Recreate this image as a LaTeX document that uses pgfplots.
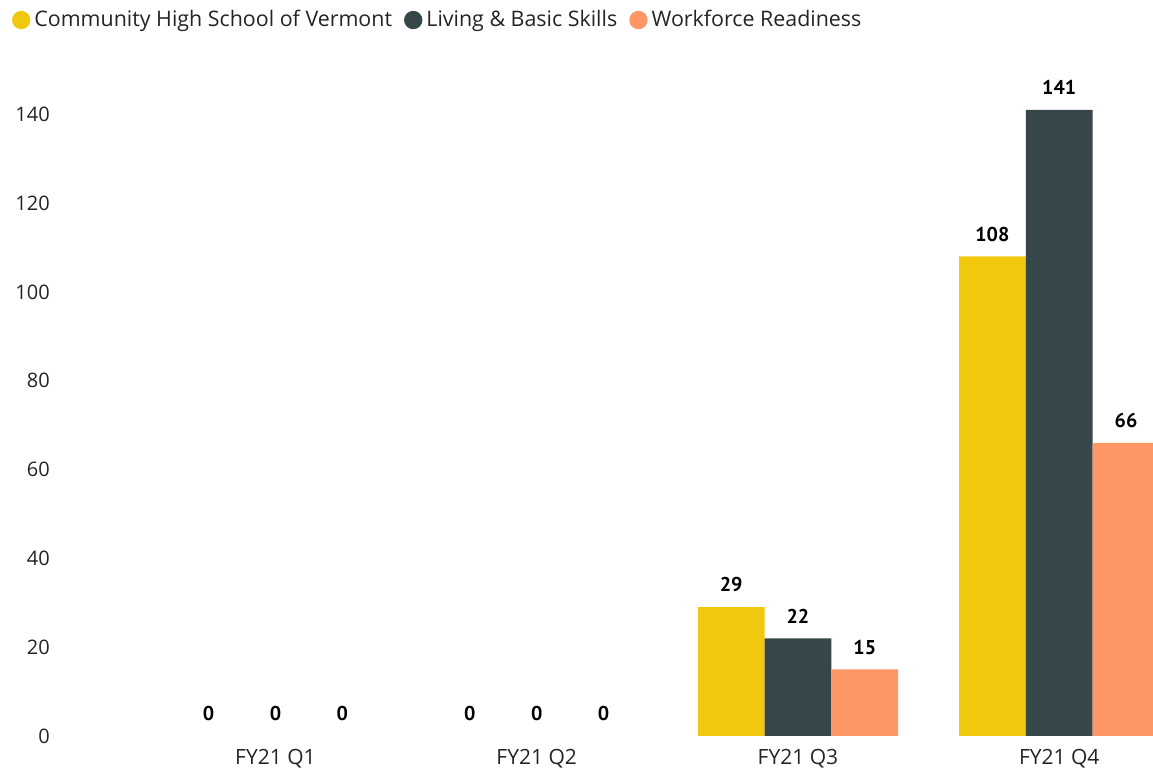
\documentclass[border=0pt]{standalone}
\usepackage{fontspec}
\setmainfont{Open Sans}
\newfontfamily\labelfont{PT Sans}
\usepackage{pgfplots}
\pgfplotsset{compat=1.18}
\definecolor{cy}{HTML}{F2C80F}
\definecolor{cd}{HTML}{374649}
\definecolor{co}{HTML}{FE9666}
\definecolor{tx}{HTML}{252423}
\pgfplotsset{circlegend/.style={legend image code/.code={\fill[##1] (0pt,0pt) circle (4.6pt);}}}
\begin{document}
\begin{tikzpicture}
\useasboundingbox (0,0) rectangle (576.5pt,384.5pt);
\begin{axis}[
 at={(72.4pt,16.5pt)}, anchor=south west,
 scale only axis, width=504.1pt, height=333pt,
 ybar=0pt, bar width=33.4pt,
 xmin=-0.5, xmax=3.359, ymin=0, ymax=150,
 xtick={0,1,2,3}, xticklabels={FY21 Q1,FY21 Q2,FY21 Q3,FY21 Q4},
 ytick={0,20,...,140},
 axis line style={draw=none}, major tick length=0pt,
 yticklabel style={font=\fontsize{10}{12}\selectfont, text=tx, xshift=-44pt},
 xticklabel style={font=\fontsize{10.5}{12}\selectfont, text=tx, yshift=-3pt},
 /pgf/number format/assume math mode=true,
 clip=false,
 nodes near coords,
 nodes near coords style={font=\labelfont\bfseries\fontsize{10}{12}\selectfont, text=black, yshift=4pt},
 legend columns=3,
 legend style={at={(axis description cs:-0.1317,1.075)}, anchor=west, draw=none, fill=none, inner sep=0pt, outer sep=0pt,
   font=\fontsize{10.7}{12}\selectfont, text=tx,
   /tikz/every even column/.append style={column sep=4pt}},
]
\addplot[fill=cy, draw=none, circlegend, bar shift=-33.4pt] coordinates {(2,29) (3,108)};
\addplot[fill=cd, draw=none, circlegend, bar shift=0pt] coordinates {(2,22) (3,141)};
\addplot[fill=co, draw=none, circlegend, bar shift=33.4pt] coordinates {(2,15) (3,66)};
\legend{Community High School of Vermont, Living \& Basic Skills, Workforce Readiness}
\addplot[fill=none, draw=none, forget plot, bar shift=-33.4pt] coordinates {(0,0) (1,0)};
\addplot[fill=none, draw=none, forget plot, bar shift=0pt] coordinates {(0,0) (1,0)};
\addplot[fill=none, draw=none, forget plot, bar shift=33.4pt] coordinates {(0,0) (1,0)};
\end{axis}
\end{tikzpicture}
\end{document}
